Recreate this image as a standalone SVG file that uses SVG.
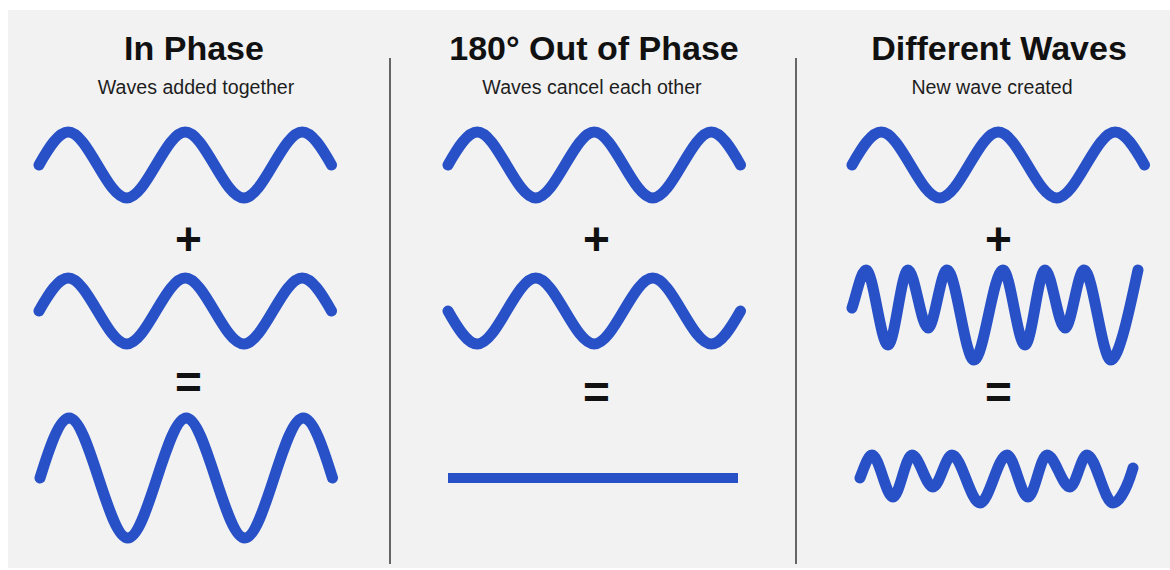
<svg xmlns="http://www.w3.org/2000/svg" xmlns:xlink="http://www.w3.org/1999/xlink" width="1170" height="570" viewBox="0 0 1170 570">
  <style>
    .title { font-family: "Liberation Sans", Arial, sans-serif; font-weight: bold; font-size: 34px; fill: #111; text-anchor: middle; }
    .sub { font-family: "Liberation Sans", Arial, sans-serif; font-size: 19.6px; fill: #1e1e1e; text-anchor: middle; }
    .op { font-family: "Liberation Sans", Arial, sans-serif; font-weight: bold; font-size: 46px; fill: #111; text-anchor: middle; }
    .wave { fill: none; stroke: #2851c8; stroke-width: 11; stroke-linecap: round; stroke-linejoin: round; }
    .flat { fill: none; stroke: #2851c8; stroke-width: 10; stroke-linecap: butt; }
    .divider { stroke: #666; stroke-width: 2; }
  </style>
  <defs>
    <path id="w" class="wave" d="M 0 0 C 9.75 -17.28, 19.5 -33, 29.25 -33 C 48.75 -33, 68.25 33, 87.75 33 C 107.25 33, 126.75 -33, 146.25 -33 C 165.75 -33, 185.25 33, 204.75 33 C 224.25 33, 243.75 -33, 263.25 -33 C 273 -33, 282.75 -17.28, 292.5 0"/>
  </defs>

  <rect x="8" y="10" width="1162" height="558" fill="#f2f2f2"/>

  <g id="dividers">
    <line class="divider" x1="390" y1="58" x2="390" y2="564"/>
    <line class="divider" x1="796" y1="58" x2="796" y2="564"/>
  </g>

  <g id="in-phase">
    <text class="title" x="194" y="60">In Phase</text>
    <text class="sub" x="196" y="94">Waves added together</text>
    <use xlink:href="#w" href="#w" transform="translate(39,165)"/>
    <text class="op" x="188.5" y="255">+</text>
    <use xlink:href="#w" href="#w" transform="translate(39,311)"/>
    <text class="op" x="188.5" y="398">=</text>
    <path class="wave" d="M 40 478 C 49.75 446.6, 59.5 418, 69.25 418 C 88.75 418, 108.25 538, 127.75 538 C 147.25 538, 166.75 418, 186.25 418 C 205.75 418, 225.25 538, 244.75 538 C 264.25 538, 283.75 418, 303.25 418 C 313 418, 322.75 446.6, 332.5 478"/>
  </g>

  <g id="out-of-phase">
    <text class="title" x="594" y="60">180° Out of Phase</text>
    <text class="sub" x="592" y="94">Waves cancel each other</text>
    <use xlink:href="#w" href="#w" transform="translate(448,165)"/>
    <text class="op" x="596.5" y="255">+</text>
    <use xlink:href="#w" href="#w" transform="translate(448,311) scale(1,-1)"/>
    <text class="op" x="596.5" y="408">=</text>
    <line class="flat" x1="448" y1="478" x2="738" y2="478"/>
  </g>

  <g id="different-waves">
    <text class="title" x="999" y="60">Different Waves</text>
    <text class="sub" x="992" y="94">New wave created</text>
    <use xlink:href="#w" href="#w" transform="translate(852,165)"/>
    <text class="op" x="998.5" y="255">+</text>
    <path class="wave" d="M 852 308 C 856.7 294, 861.3 270, 866 270 C 873.3 270, 880.7 345, 888 345 C 894.7 345, 901.3 270, 908 270 C 914.7 270, 921.3 328, 928 328 C 934.3 328, 940.7 270, 947 270 C 956 270, 965 360, 974 360 C 983.7 360, 993.3 270, 1003 270 C 1010.3 270, 1017.7 345, 1025 345 C 1031.7 345, 1038.3 270, 1045 270 C 1051.7 270, 1058.3 328, 1065 328 C 1071.3 328, 1077.7 270, 1084 270 C 1093 270, 1102 360, 1111 360 C 1120 360, 1133 292, 1138 270"/>
    <text class="op" x="998.5" y="408">=</text>
    <path class="wave" d="M 860 478 C 864 468, 868 455, 872 455 C 879 455, 886 497, 893 497 C 899.3 497, 905.7 455, 912 455 C 919 455, 926 487, 933 487 C 939.3 487, 945.7 455, 952 455 C 961.3 455, 970.7 503, 980 503 C 989 503, 998 455, 1007 455 C 1014 455, 1021 497, 1028 497 C 1034.3 497, 1040.7 455, 1047 455 C 1054.7 455, 1062.3 487, 1070 487 C 1075.7 487, 1081.3 455, 1087 455 C 1095.7 455, 1104.3 503, 1113 503 C 1120 503, 1128 485, 1133 468"/>
  </g>
</svg>
